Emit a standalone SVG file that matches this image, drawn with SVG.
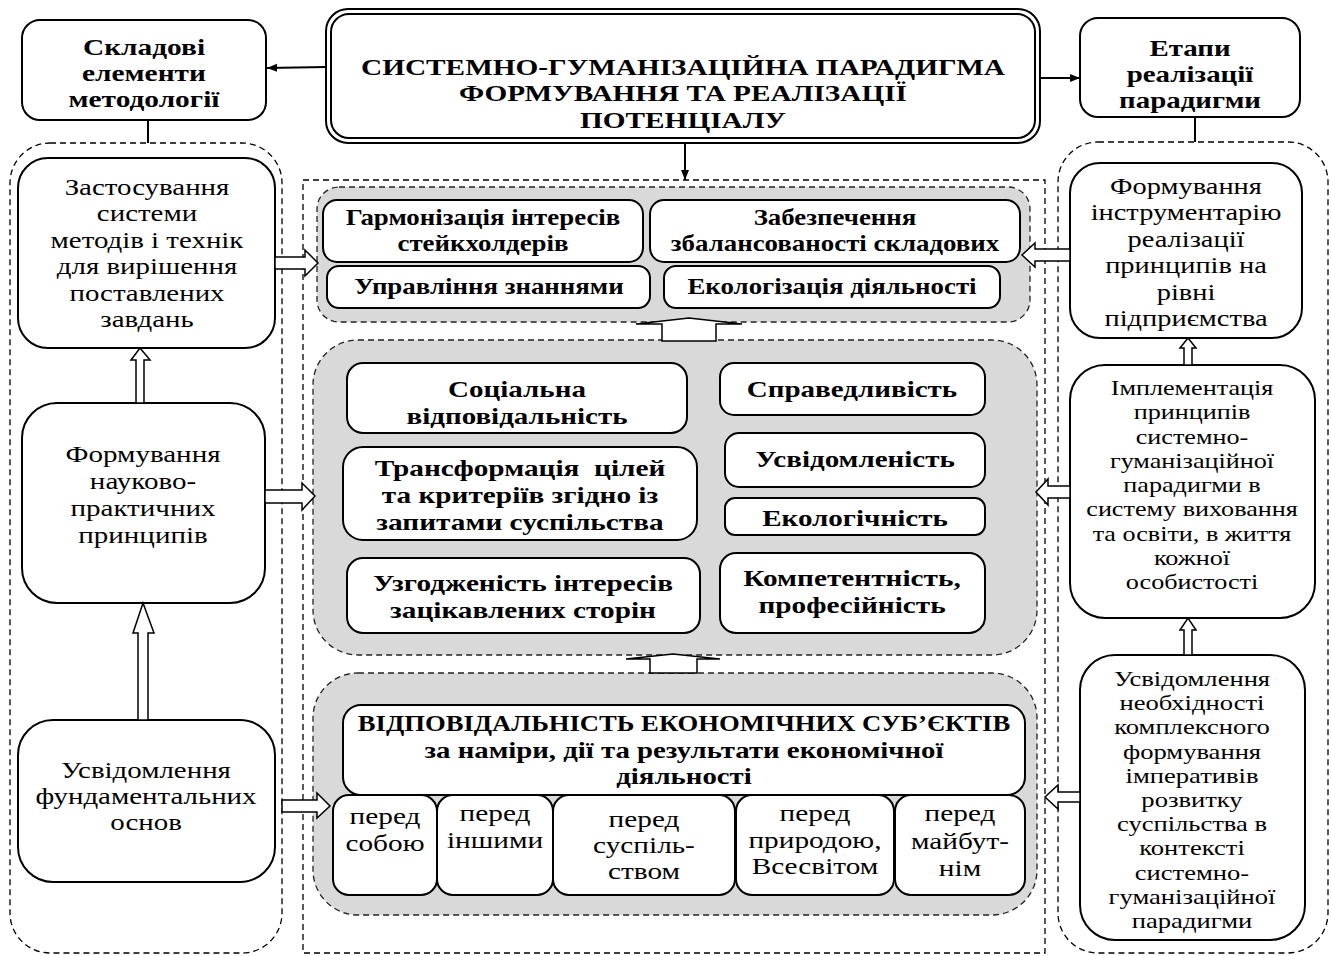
<svg xmlns="http://www.w3.org/2000/svg" width="1331" height="956" viewBox="0 0 1331 956">
<defs>
<marker id="ah" viewBox="0 0 10 10" refX="10" refY="5" markerWidth="10" markerHeight="10" markerUnits="userSpaceOnUse" orient="auto"><path d="M0,1 L10,5 L0,9 Z" fill="#000"/></marker>
<style>
.t{font-family:"Liberation Serif","Times New Roman",serif;fill:#000;text-anchor:middle}
.b{font-weight:bold}
.box{fill:#fff;stroke:#000;stroke-width:2}
.dash{fill:none;stroke:#000;stroke-width:1.3;stroke-dasharray:6,4}
.grp{fill:#d9d9d9;stroke:#222;stroke-width:1.3;stroke-dasharray:6,4}
.ba{fill:#fff;stroke:#000;stroke-width:1.5;stroke-linejoin:miter}
.ln{stroke:#000;stroke-width:2;fill:none}
</style>
</defs>
<rect width="1331" height="956" fill="#fff"/>

<g id="containers">
<rect class="dash" x="10" y="143" width="272" height="810" rx="40"/>
<rect class="dash" x="1058" y="142" width="270" height="811" rx="40"/>
<rect class="dash" x="303" y="180" width="742" height="773"/>
<rect class="grp" x="317" y="187" width="713" height="135" rx="22"/>
<rect class="grp" x="313" y="340" width="724" height="315" rx="45"/>
<rect class="grp" x="313" y="673" width="724" height="242" rx="45"/>
</g>

<g id="title">
<rect class="box" x="326" y="9" width="714" height="134" rx="22"/>
<rect class="box" x="331" y="14" width="704" height="124" rx="18"/>
<g transform="translate(683 0) scale(1.22 1)">
<text class="t b" font-size="24" x="0" y="75">СИСТЕМНО-ГУМАНІЗАЦІЙНА ПАРАДИГМА</text>
<text class="t b" font-size="24" x="0" y="101.5">ФОРМУВАННЯ ТА РЕАЛІЗАЦІЇ</text>
<text class="t b" font-size="24" x="0" y="128">ПОТЕНЦІАЛУ</text>
</g>
</g>

<g id="n-skladovi">
<rect class="box" x="22" y="20" width="244" height="100" rx="18"/>
<g transform="translate(144 0) scale(1.25 1)">
<text class="t b" font-size="23.5" x="0" y="55">Складові</text>
<text class="t b" font-size="23.5" x="0" y="81">елементи</text>
<text class="t b" font-size="23.5" x="0" y="107">методології</text>
</g>
</g>

<g id="n-etapy">
<rect class="box" x="1080" y="18" width="220" height="99" rx="18"/>
<g transform="translate(1190 0) scale(1.23 1)">
<text class="t b" font-size="23.5" x="0" y="56">Етапи</text>
<text class="t b" font-size="23.5" x="0" y="82">реалізації</text>
<text class="t b" font-size="23.5" x="0" y="108">парадигми</text>
</g>
</g>

<g id="n-l1">
<rect class="box" x="18" y="158" width="257" height="190" rx="30"/>
<g transform="translate(147 0) scale(1.23 1)">
<text class="t" font-size="23.5" x="0" y="195">Застосування</text>
<text class="t" font-size="23.5" x="0" y="221.4">системи</text>
<text class="t" font-size="23.5" x="0" y="247.8">методів і технік</text>
<text class="t" font-size="23.5" x="0" y="274.2">для вирішення</text>
<text class="t" font-size="23.5" x="0" y="300.6">поставлених</text>
<text class="t" font-size="23.5" x="0" y="327">завдань</text>
</g>
</g>

<g id="n-l2">
<rect class="box" x="22" y="403" width="243" height="200" rx="35"/>
<g transform="translate(143 0) scale(1.21 1)">
<text class="t" font-size="24" x="0" y="462">Формування</text>
<text class="t" font-size="24" x="0" y="489">науково-</text>
<text class="t" font-size="24" x="0" y="516">практичних</text>
<text class="t" font-size="24" x="0" y="543">принципів</text>
</g>
</g>

<g id="n-l3">
<rect class="box" x="18" y="720" width="257" height="162" rx="35"/>
<g transform="translate(146 0) scale(1.23 1)">
<text class="t" font-size="23.5" x="0" y="778">Усвідомлення</text>
<text class="t" font-size="23.5" x="0" y="804">фундаментальних</text>
<text class="t" font-size="23.5" x="0" y="830">основ</text>
</g>
</g>

<g id="n-r1">
<rect class="box" x="1070" y="163" width="232" height="175" rx="30"/>
<g transform="translate(1186 0) scale(1.21 1)">
<text class="t" font-size="23.5" x="0" y="194">Формування</text>
<text class="t" font-size="23.5" x="0" y="220.5">інструментарію</text>
<text class="t" font-size="23.5" x="0" y="247">реалізації</text>
<text class="t" font-size="23.5" x="0" y="273.5">принципів на</text>
<text class="t" font-size="23.5" x="0" y="300">рівні</text>
<text class="t" font-size="23.5" x="0" y="326.5">підприємства</text>
</g>
</g>

<g id="n-r2">
<rect class="box" x="1070" y="365" width="245" height="253" rx="35"/>
<g transform="translate(1192 0) scale(1.2 1)">
<text class="t" font-size="21.8" x="0" y="395">Імплементація</text>
<text class="t" font-size="21.8" x="0" y="419.3">принципів</text>
<text class="t" font-size="21.8" x="0" y="443.6">системно-</text>
<text class="t" font-size="21.8" x="0" y="467.9">гуманізаційної</text>
<text class="t" font-size="21.8" x="0" y="492.2">парадигми в</text>
<text class="t" font-size="21.8" x="0" y="516.5">систему виховання</text>
<text class="t" font-size="21.8" x="0" y="540.8">та освіти, в життя</text>
<text class="t" font-size="21.8" x="0" y="565.1">кожної</text>
<text class="t" font-size="21.8" x="0" y="589.4">особистості</text>
</g>
</g>

<g id="n-r3">
<rect class="box" x="1080" y="655" width="225" height="285" rx="35"/>
<g transform="translate(1192 0) scale(1.22 1)">
<text class="t" font-size="21.8" x="0" y="686">Усвідомлення</text>
<text class="t" font-size="21.8" x="0" y="710.2">необхідності</text>
<text class="t" font-size="21.8" x="0" y="734.4">комплексного</text>
<text class="t" font-size="21.8" x="0" y="758.6">формування</text>
<text class="t" font-size="21.8" x="0" y="782.8">імперативів</text>
<text class="t" font-size="21.8" x="0" y="807">розвитку</text>
<text class="t" font-size="21.8" x="0" y="831.2">суспільства в</text>
<text class="t" font-size="21.8" x="0" y="855.4">контексті</text>
<text class="t" font-size="21.8" x="0" y="879.6">системно-</text>
<text class="t" font-size="21.8" x="0" y="903.8">гуманізаційної</text>
<text class="t" font-size="21.8" x="0" y="928">парадигми</text>
</g>
</g>

<g id="n-harm">
<rect class="box" x="323" y="200" width="320" height="62" rx="14"/>
<g transform="translate(483 0) scale(1.12 1)">
<text class="t b" font-size="24" x="0" y="225">Гармонізація інтересів</text>
<text class="t b" font-size="24" x="0" y="251">стейкхолдерів</text>
</g>
</g>
<g id="n-zabezp">
<rect class="box" x="650" y="200" width="370" height="62" rx="14"/>
<g transform="translate(835 0) scale(1.12 1)">
<text class="t b" font-size="24" x="0" y="225">Забезпечення</text>
<text class="t b" font-size="24" x="0" y="251">збалансованості складових</text>
</g>
</g>
<g id="n-uprav">
<rect class="box" x="327" y="266" width="323" height="42" rx="12"/>
<g transform="translate(489 0) scale(1.12 1)">
<text class="t b" font-size="24" x="0" y="294">Управління знаннями</text>
</g>
</g>
<g id="n-ekolog">
<rect class="box" x="664" y="266" width="336" height="42" rx="12"/>
<g transform="translate(832 0) scale(1.12 1)">
<text class="t b" font-size="24" x="0" y="294">Екологізація діяльності</text>
</g>
</g>

<g id="n-social">
<rect class="box" x="347" y="363" width="340" height="70" rx="16"/>
<g transform="translate(517 0) scale(1.21 1)">
<text class="t b" font-size="24" x="0" y="397">Соціальна</text>
<text class="t b" font-size="24" x="0" y="424">відповідальність</text>
</g>
</g>
<g id="n-sprav">
<rect class="box" x="720" y="363" width="265" height="52" rx="14"/>
<g transform="translate(852 0) scale(1.21 1)">
<text class="t b" font-size="24" x="0" y="397">Справедливість</text>
</g>
</g>
<g id="n-transf">
<rect class="box" x="343" y="447" width="354" height="93" rx="20"/>
<g transform="translate(520 0) scale(1.22 1)">
<text class="t b" font-size="24" x="0" y="476" xml:space="preserve">Трансформація  цілей</text>
<text class="t b" font-size="24" x="0" y="503">та критеріїв згідно із</text>
<text class="t b" font-size="24" x="0" y="530">запитами суспільства</text>
</g>
</g>
<g id="n-usvid">
<rect class="box" x="725" y="433" width="260" height="54" rx="14"/>
<g transform="translate(855 0) scale(1.21 1)">
<text class="t b" font-size="24" x="0" y="467">Усвідомленість</text>
</g>
</g>
<g id="n-ekol">
<rect class="box" x="725" y="498" width="260" height="37" rx="10"/>
<g transform="translate(855 0) scale(1.21 1)">
<text class="t b" font-size="24" x="0" y="526">Екологічність</text>
</g>
</g>
<g id="n-uzgod">
<rect class="box" x="347" y="558" width="353" height="75" rx="16"/>
<g transform="translate(523 0) scale(1.22 1)">
<text class="t b" font-size="24" x="0" y="591">Узгодженість інтересів</text>
<text class="t b" font-size="24" x="0" y="618">зацікавлених сторін</text>
</g>
</g>
<g id="n-kompet">
<rect class="box" x="720" y="553" width="265" height="80" rx="16"/>
<g transform="translate(852 0) scale(1.22 1)">
<text class="t b" font-size="24" x="0" y="586">Компетентність,</text>
<text class="t b" font-size="24" x="0" y="613">професійність</text>
</g>
</g>

<g id="n-vidp">
<rect class="box" x="343" y="705" width="682" height="90" rx="18"/>
<text class="t b" font-size="24" x="684" y="731" transform="translate(684 0) scale(1.11 1) translate(-684 0)">ВІДПОВІДАЛЬНІСТЬ ЕКОНОМІЧНИХ СУБ’ЄКТІВ</text>
<g transform="translate(684 0) scale(1.2 1)">
<text class="t b" font-size="24" x="0" y="758">за наміри, дії та результати економічної</text>
<text class="t b" font-size="24" x="0" y="784">діяльності</text>
</g>
</g>
<g id="n-p1">
<rect class="box" x="333" y="795" width="104" height="100" rx="16"/>
<g transform="translate(385 0) scale(1.22 1)">
<text class="t" font-size="24" x="0" y="824">перед</text>
<text class="t" font-size="24" x="0" y="851">собою</text>
</g>
</g>
<g id="n-p2">
<rect class="box" x="437" y="795" width="116" height="100" rx="16"/>
<g transform="translate(495 0) scale(1.22 1)">
<text class="t" font-size="24" x="0" y="821">перед</text>
<text class="t" font-size="24" x="0" y="848">іншими</text>
</g>
</g>
<g id="n-p3">
<rect class="box" x="553" y="795" width="182" height="100" rx="16"/>
<g transform="translate(644 0) scale(1.22 1)">
<text class="t" font-size="24" x="0" y="827">перед</text>
<text class="t" font-size="24" x="0" y="853">суспіль-</text>
<text class="t" font-size="24" x="0" y="879">ством</text>
</g>
</g>
<g id="n-p4">
<rect class="box" x="736" y="795" width="158" height="100" rx="16"/>
<g transform="translate(815 0) scale(1.22 1)">
<text class="t" font-size="24" x="0" y="821">перед</text>
<text class="t" font-size="24" x="0" y="848">природою,</text>
<text class="t" font-size="24" x="0" y="874">Всесвітом</text>
</g>
</g>
<g id="n-p5">
<rect class="box" x="895" y="795" width="130" height="100" rx="16"/>
<g transform="translate(960 0) scale(1.22 1)">
<text class="t" font-size="24" x="0" y="821">перед</text>
<text class="t" font-size="24" x="0" y="849">майбут-</text>
<text class="t" font-size="24" x="0" y="876">нім</text>
</g>
</g>

<g id="connectors">
<line class="ln" x1="326" y1="67" x2="267" y2="68" marker-end="url(#ah)"/>
<line class="ln" x1="1040" y1="78" x2="1080" y2="78" marker-end="url(#ah)"/>
<line class="ln" x1="685" y1="143" x2="685" y2="180" marker-end="url(#ah)"/>
<line class="ln" x1="148" y1="120" x2="148" y2="143"/>
<line class="ln" x1="1195" y1="117" x2="1195" y2="142"/>
<polygon class="ba" points="275,257 305,257 305,250 318,263 305,276 305,269 275,269"/>
<polygon class="ba" points="265,490 302,490 302,483 315,496 302,510 302,503 265,503"/>
<polygon class="ba" points="282,800 317,800 317,793 330,806 317,818 317,812 282,812"/>
<polygon class="ba" points="1070,249 1035,249 1035,243 1022,255 1035,267 1035,261 1070,261"/>
<polygon class="ba" points="1070,486 1048,486 1048,479 1036,492 1048,505 1048,498 1070,498"/>
<polygon class="ba" points="1080,792 1058,792 1058,785 1045,797 1058,809 1058,802 1080,802"/>
<polygon class="ba" points="136,403 136,360 131,360 140,348 150,360 144,360 144,403"/>
<polygon class="ba" points="138,720 138,633 133,633 143,603 154,633 148,633 148,720"/>
<polygon class="ba" points="1184,365 1184,348 1180,348 1188,338 1196,348 1192,348 1192,365"/>
<polygon class="ba" points="1184,655 1184,630 1180,630 1188,618 1196,630 1192,630 1192,655"/>
<polygon class="ba" points="662,341 662,324 636,324 689,318 742,324 716,324 716,341"/>
<polygon class="ba" points="650,673 650,659 626,659 673,654 720,659 697,659 697,673"/>
</g>
</svg>
